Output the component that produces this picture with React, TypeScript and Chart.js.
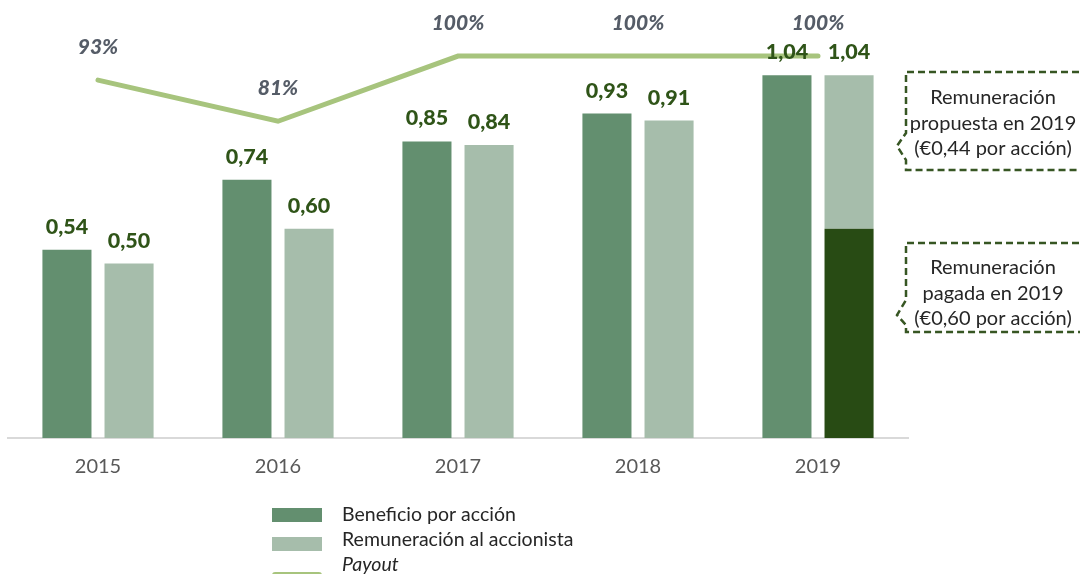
import React, { useEffect, useRef } from "react";
import { Chart, registerables } from "chart.js";

Chart.register(...registerables);

const years = ["2015", "2016", "2017", "2018", "2019"];
const beneficio = [0.54, 0.74, 0.85, 0.93, 1.04];
const remuneracion = [0.5, 0.6, 0.84, 0.91, 1.04];
const pagada2019 = 0.6;
const propuesta2019 = 0.44;
const payout = [93, 81, 100, 100, 100];
const beneficioLabels = ["0,54", "0,74", "0,85", "0,93", "1,04"];
const remuneracionLabels = ["0,50", "0,60", "0,84", "0,91", "1,04"];
const payoutLabels = ["93%", "81%", "100%", "100%", "100%"];
const legendLabels = ["Beneficio por acción", "Remuneración al accionista", "Payout"];
const callout1 = ["Remuneración", "propuesta en 2019", "(€0,44 por acción)"];
const callout2 = ["Remuneración", "pagada en 2019", "(€0,60 por acción)"];

const C_DARK = "#638f6f";
const C_LIGHT = "#a6bdab";
const C_PAID = "#284b14";
const C_LINE = "#a7c47d";
const C_LABEL = "#2f5418";
const C_PAYOUT = "#555c67";
const FONT = "Lato, 'Open Sans', sans-serif";

export default function App() {
  const ref = useRef<HTMLCanvasElement | null>(null);
  useEffect(() => {
    const canvas = ref.current;
    if (!canvas) return;
    const n = years.length;
    const paidData = years.map((_, i) => (i === n - 1 ? pagada2019 : null));
    const remTop = remuneracion.map((v, i) => (i === n - 1 ? propuesta2019 : v));

    const overlay = {
      id: "overlay",
      afterDatasetsDraw(chart: any) {
        const ctx = chart.ctx;
        ctx.save();
        ctx.textAlign = "center";
        ctx.textBaseline = "middle";
        ctx.fillStyle = C_LABEL;
        ctx.font = `900 21.5px ${FONT}`;
        const m0 = chart.getDatasetMeta(0);
        const m2 = chart.getDatasetMeta(2);
        m0.data.forEach((el: any, i: number) => {
          ctx.fillText(beneficioLabels[i], el.x, el.y - 23);
        });
        m2.data.forEach((el: any, i: number) => {
          ctx.fillText(remuneracionLabels[i], el.x, el.y - 23);
        });
        const m3 = chart.getDatasetMeta(3);
        ctx.fillStyle = C_PAYOUT;
        ctx.font = `italic 900 21px ${FONT}`;
        m3.data.forEach((el: any, i: number) => {
          ctx.fillText(payoutLabels[i], el.x, el.y - 33);
        });

        const drawCallout = (top: number, bottom: number, nTop: number, tipY: number, nBot: number, lines: string[], textY: number) => {
          const left = 906;
          ctx.beginPath();
          ctx.moveTo(1090, top);
          ctx.lineTo(left, top);
          ctx.lineTo(left, nTop);
          ctx.lineTo(897, tipY);
          ctx.lineTo(left, nBot);
          ctx.lineTo(left, bottom);
          ctx.lineTo(1090, bottom);
          ctx.setLineDash([7, 4]);
          ctx.lineWidth = 2.5;
          ctx.strokeStyle = "#375623";
          ctx.stroke();
          ctx.setLineDash([]);
          ctx.fillStyle = "#262626";
          ctx.font = `20px ${FONT}`;
          ctx.textAlign = "center";
          lines.forEach((t, k) => ctx.fillText(t, 993, textY + k * 25.5));
        };
        drawCallout(72, 170, 133, 146, 160, callout1, 98);
        drawCallout(243, 332, 300, 315, 325, callout2, 268);

        ctx.fillStyle = C_DARK;
        ctx.fillRect(272, 508, 50, 14);
        ctx.fillStyle = C_LIGHT;
        ctx.fillRect(272, 537, 50, 14);
        ctx.strokeStyle = C_LINE;
        ctx.lineWidth = 6;
        ctx.lineCap = "round";
        ctx.beginPath();
        ctx.moveTo(275, 575);
        ctx.lineTo(319, 575);
        ctx.stroke();
        ctx.textAlign = "left";
        ctx.fillStyle = "#262626";
        ctx.font = `19.5px ${FONT}`;
        ctx.fillText(legendLabels[0], 342, 515);
        ctx.fillText(legendLabels[1], 342, 540);
        ctx.font = `italic 19.5px ${FONT}`;
        ctx.fillText(legendLabels[2], 342, 565);
        ctx.restore();
      },
    };

    const chart = new Chart(canvas, {
      type: "bar",
      data: {
        labels: years,
        datasets: [
          { label: legendLabels[0], data: beneficio, backgroundColor: C_DARK, stack: "ben", categoryPercentage: 0.69, barPercentage: 0.79, order: 2 } as any,
          { label: "pagada", data: paidData, backgroundColor: C_PAID, stack: "rem", categoryPercentage: 0.69, barPercentage: 0.79, order: 2 } as any,
          { label: legendLabels[1], data: remTop, backgroundColor: C_LIGHT, stack: "rem", categoryPercentage: 0.69, barPercentage: 0.79, order: 2 } as any,
          { type: "line", label: legendLabels[2], data: payout, yAxisID: "y2", borderColor: C_LINE, borderWidth: 5, pointRadius: 0, borderCapStyle: "round", borderJoinStyle: "miter", tension: 0, order: 1 } as any,
        ],
      },
      options: {
        responsive: false,
        animation: false,
        devicePixelRatio: 1,
        layout: { padding: { left: 8, right: 172, top: 10, bottom: 78 } },
        plugins: { legend: { display: false }, tooltip: { enabled: false } },
        scales: {
          x: {
            stacked: true,
            grid: { display: false, drawTicks: false },
            border: { color: "#d9d9d9", width: 2 },
            ticks: { color: "#595959", font: { family: FONT, size: 20 }, padding: 17 },
          },
          y: { stacked: true, display: false, min: 0, max: 1.227 },
          y2: { stacked: false, display: false, min: -11.4, max: 113.45 },
        },
      },
      plugins: [overlay],
    });
    return () => chart.destroy();
  }, []);
  return (
    <div style={{ position: "absolute", left: 0, top: 0, width: 1080, height: 574, background: "#fff" }}>
      <canvas ref={ref} width={1080} height={574} />
    </div>
  );
}
